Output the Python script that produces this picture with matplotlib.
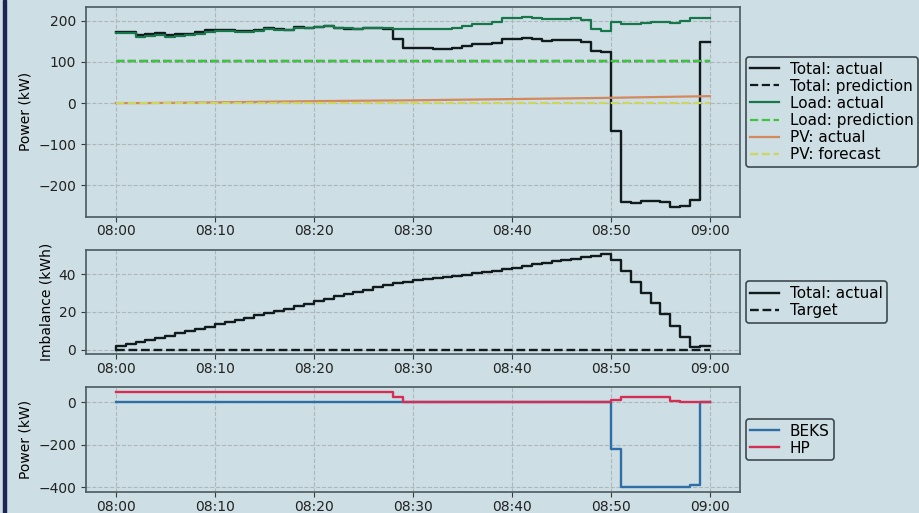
import pandas as pd
import matplotlib
matplotlib.use("Agg")
import matplotlib.pyplot as plt
import matplotlib.dates as mdates
from matplotlib.patches import Rectangle

# one value per minute, 08:00 .. 09:00
times = pd.date_range("2024-01-01 08:00", periods=61, freq="min")

total_actual = [174, 174, 166, 168, 170, 166, 168, 169, 172, 177,
                178, 177, 175, 176, 177, 182, 179, 178, 184, 183,
                186, 187, 182, 181, 179, 182, 182, 181, 156, 135,
                135, 135, 131, 131, 135, 139, 144, 144, 147, 155,
                156, 158, 156, 152, 153, 153, 153, 149, 127, 123,
                -69, -240, -242, -237, -237, -240, -253, -250, -236, 149,
                149]
total_prediction = [103] * 61
load_actual = [170, 170, 160, 163, 166, 161, 163, 165, 168, 174,
               175, 175, 173, 174, 175, 181, 178, 177, 183, 183,
               186, 187, 182, 182, 180, 183, 183, 183, 181, 181,
               181, 181, 179, 179, 182, 187, 192, 192, 197, 207,
               207, 210, 208, 205, 205, 205, 206, 202, 180, 176,
               197, 192, 192, 194, 197, 198, 194, 199, 208, 206,
               206]
load_prediction = [103] * 61
pv_actual = [0.0, 0.0, 0.0, 0.0, 0.2, 0.4, 0.6, 0.8, 1.0, 1.3,
             1.6, 1.9, 2.2, 2.5, 2.8, 3.1, 3.4, 3.7, 4.0, 4.3,
             4.6, 4.9, 5.1, 5.3, 5.5, 5.7, 5.9, 6.1, 6.3, 6.5,
             6.7, 7.0, 7.3, 7.6, 7.9, 8.2, 8.5, 8.8, 9.1, 9.4,
             9.7, 10.0, 10.3, 10.6, 10.9, 11.2, 11.5, 11.8, 12.1, 12.4,
             12.8, 13.2, 13.6, 14.0, 14.4, 14.8, 15.2, 15.6, 16.0, 16.4,
             16.8]
pv_forecast = [0] * 61

# imbalance, value of the step ending at each minute
imbalance = [0.0, 2.0, 3.0, 4.1, 5.2, 6.3, 7.4, 8.6, 9.8, 11.0,
             12.2, 13.4, 14.6, 15.8, 17.0, 18.2, 19.4, 20.6, 21.8, 23.0,
             24.3, 25.6, 26.9, 28.2, 29.4, 30.6, 31.8, 33.0, 34.1, 35.1,
             36.0, 36.7, 37.3, 37.9, 38.5, 39.1, 39.8, 40.5, 41.2, 42.0,
             42.8, 43.6, 44.4, 45.2, 46.0, 46.8, 47.6, 48.3, 49.0, 49.6,
             50.6, 47.4, 41.6, 35.9, 30.3, 24.6, 18.8, 12.6, 6.7, 1.1,
             1.8]
target = [0] * 61

beks = [0] * 50 + [-222, -400, -400, -400, -400, -400, -400, -400, -388, 0, 0]
hp = [47] * 28 + [25] + [0] * 21 + [11, 23, 23, 23, 23, 23, 5, 0, 0, 0, 0]

bg = "#cddee4"
plt.rcParams.update({
    "font.family": "DejaVu Sans",
    "font.size": 10,
    "axes.facecolor": bg,
    "figure.facecolor": bg,
    "axes.edgecolor": "#4a5a5f",
    "axes.linewidth": 1.2,
    "grid.color": "#adb8bc",
    "grid.linestyle": "--",
    "grid.linewidth": 0.8,
    "xtick.color": "#333d40",
    "ytick.color": "#333d40",
    "xtick.labelcolor": "#222222",
    "ytick.labelcolor": "#222222",
    "xtick.major.pad": 2.0,
})

fig, axes = plt.subplots(3, 1, figsize=(9.2, 5.13), dpi=100,
                         gridspec_kw={"height_ratios": [2, 1, 1]})
fig.subplots_adjust(left=0.0935, right=0.804, top=0.986, bottom=0.041, hspace=0.236)

ax1, ax2, ax3 = axes
ax1.step(times, total_actual, where="post", color="#111a1c", lw=1.7, label="Total: actual")
ax1.step(times, total_prediction, where="post", color="#111a1c", lw=1.6, ls="--", label="Total: prediction")
ax1.step(times, load_actual, where="post", color="#17774a", lw=1.6, label="Load: actual")
ax1.step(times, load_prediction, where="post", color="#3cc63c", lw=1.6, ls="--", label="Load: prediction")
ax1.plot(times, pv_actual, color="#d4895c", lw=1.6, label="PV: actual")
ax1.plot(times, pv_forecast, color="#cdd65e", lw=1.6, ls="--", label="PV: forecast")
ax1.set_ylabel("Power (kW)")

ax2.step(times, imbalance, where="pre", color="#111a1c", lw=1.7, label="Total: actual")
ax2.step(times, target, where="post", color="#111a1c", lw=1.7, ls="--", label="Target")
ax2.set_ylabel("Imbalance (kWh)")

ax3.step(times, beks, where="post", color="#2f6ea5", lw=1.7, label="BEKS")
ax3.step(times, hp, where="post", color="#d42e55", lw=1.7, label="HP")
ax3.set_ylabel("Power (kW)")

for ax in axes:
    ax.grid(True)
    ax.xaxis.set_major_locator(mdates.MinuteLocator(byminute=range(0, 60, 10)))
    ax.xaxis.set_major_formatter(mdates.DateFormatter("%H:%M"))
    leg = ax.legend(loc="center left", bbox_to_anchor=(1.009, 0.5), borderaxespad=0,
                    fontsize=11, labelspacing=0.14, borderpad=0.3,
                    handletextpad=0.7, handlelength=1.9,
                    facecolor=bg, edgecolor="#3d4b50", framealpha=1.0)
    leg.get_frame().set_linewidth(1.2)

# dark strip on the left edge of the screenshot
fig.patches.append(Rectangle((3 / 920, 0), 3 / 920, 1, transform=fig.transFigure,
                             color="#1e2552", zorder=10))

fig.savefig("out.png", dpi=100)
plt.close(fig)
